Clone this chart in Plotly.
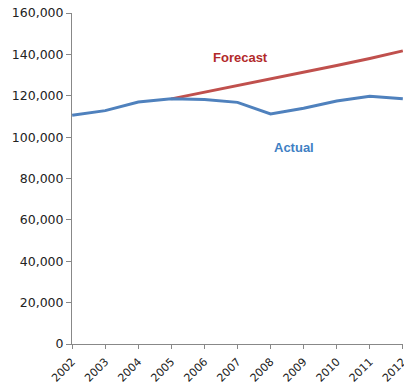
import plotly.graph_objects as go

years = [2002, 2003, 2004, 2005, 2006, 2007, 2008, 2009, 2010, 2011, 2012]
actual = [110600, 112800, 117000, 118500, 118200, 116800, 111200, 114000, 117500, 119800, 118600]
forecast_years = [2005, 2006, 2007, 2008, 2009, 2010, 2011, 2012]
forecast = [118500, 121700, 124700, 127900, 131300, 134600, 138000, 141700]
y_ticks = [0, 20000, 40000, 60000, 80000, 100000, 120000, 140000, 160000]

fig = go.Figure()
fig.add_trace(go.Scatter(x=forecast_years, y=forecast, mode="lines",
                         line=dict(color="#C0504D", width=3), showlegend=False))
fig.add_trace(go.Scatter(x=years, y=actual, mode="lines",
                         line=dict(color="#4F81BD", width=3), showlegend=False))

fig.add_annotation(x=2007.1, y=138500, text="<b>Forecast</b>", showarrow=False,
                   font=dict(color="#B22A2A", size=13, family="Liberation Sans"))
fig.add_annotation(x=2008.7, y=95000, text="<b>Actual</b>", showarrow=False,
                   font=dict(color="#3F7FC4", size=13, family="Liberation Sans"))

fig.update_layout(
    width=404, height=384,
    margin=dict(l=72, r=1, t=13, b=40),
    plot_bgcolor="white", paper_bgcolor="white",
    font=dict(family="DejaVu Sans", size=12, color="#222222"),
)
fig.update_xaxes(range=[2001.995, 2012.005], tickvals=years, ticktext=[str(y) for y in years],
                 tickangle=-45, showgrid=False, zeroline=False,
                 showline=True, linecolor="#888888", linewidth=1,
                 ticks="outside", ticklen=4, tickcolor="#888888",
                 ticklabeloverflow="allow", automargin=False,
                 ticklabelstandoff=2,
                 tickfont=dict(size=11))
fig.update_yaxes(range=[0, 160000], tickvals=y_ticks,
                 ticktext=[f"{v:,}" for v in y_ticks],
                 showgrid=False, zeroline=False, automargin=False,
                 showline=True, linecolor="#888888", linewidth=1,
                 ticks="outside", ticklen=5, tickcolor="#888888",
                 tickfont=dict(size=12.5))

fig.write_html("out.html")
